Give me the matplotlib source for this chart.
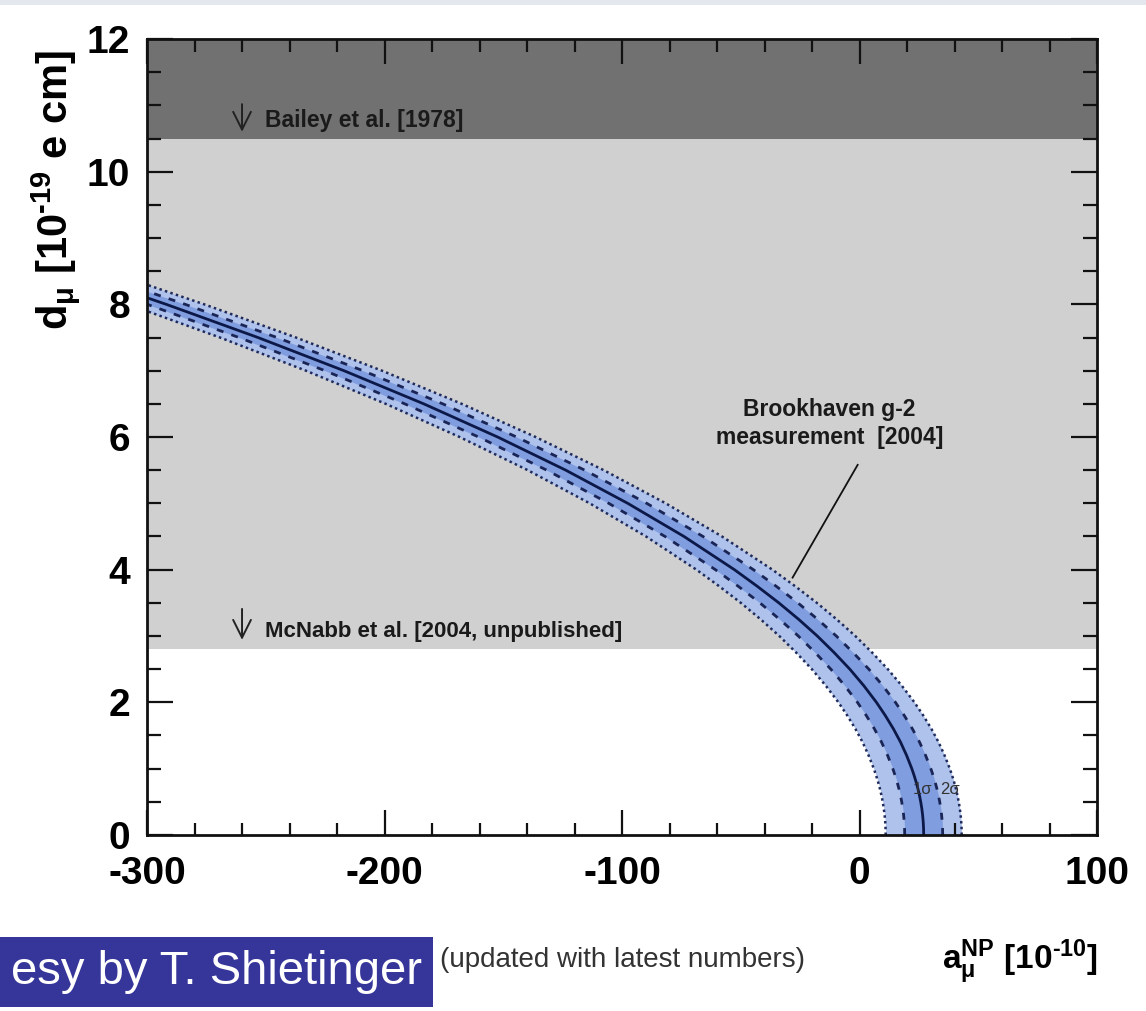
import matplotlib
matplotlib.use("Agg")
import matplotlib.pyplot as plt
import numpy as np
from matplotlib.patches import Rectangle
from matplotlib.ticker import MultipleLocator

# g-2 constraint in the (a_mu^NP, d_mu) plane: central curve plus 1/2 sigma widths
d_mu = [0.0, 0.1, 0.2, 0.3, 0.4, 0.5, 0.6, 0.7, 0.8, 0.9, 1.0, 1.2, 1.4, 1.6,
        1.8, 2.0, 2.25, 2.5, 2.75, 3.0, 3.25, 3.5, 3.75, 4.0, 4.5, 5.0, 5.5,
        6.0, 6.5, 7.0, 7.5, 8.0, 8.4]
a_np = [27.0, 26.95, 26.8, 26.55, 26.2, 25.75, 25.2, 24.55, 23.8, 22.95, 22.0,
        19.8, 17.25, 14.25, 10.85, 7.1, 1.8, -4.1, -10.7, -17.8, -25.6, -34.0,
        -43.1, -52.7, -73.9, -97.6, -123.7, -152.4, -183.5, -217.1, -253.3,
        -291.9, -324.6]
sigma_1 = 8.0
sigma_2 = 16.0

# direct EDM limits (upper bounds on d_mu)
bailey_limit = 10.5
mcnabb_limit = 2.8

BOLD = ["Liberation Sans", "DejaVu Sans"]
plt.rcParams["axes.unicode_minus"] = False
plt.rcParams["mathtext.fontset"] = "custom"
plt.rcParams["mathtext.rm"] = "Liberation Sans:bold"
plt.rcParams["mathtext.bf"] = "Liberation Sans:bold"
plt.rcParams["mathtext.it"] = "Liberation Sans:bold"

fig = plt.figure(figsize=(11.46, 10.11), dpi=100)
ax = fig.add_axes([0.1283, 0.1741, 0.8290, 0.7873])

ax.set_xlim(-300, 100)
ax.set_ylim(0, 12)

# excluded regions
ax.axhspan(bailey_limit, 12, color="#717171", lw=0, zorder=0)
ax.axhspan(mcnabb_limit, bailey_limit, color="#d0d0d0", lw=0, zorder=0)

a = np.array(a_np)
d = np.array(d_mu)
ax.fill_betweenx(d, a - sigma_2, a + sigma_2, color="#aec2ec", lw=0, zorder=1)
ax.fill_betweenx(d, a - sigma_1, a + sigma_1, color="#7f9ddf", lw=0, zorder=2)
for s in (-sigma_2, sigma_2):
    ax.plot(a + s, d, color="#1f2b5c", lw=1.8, ls=(0, (1, 1.3)), zorder=3)
for s in (-sigma_1, sigma_1):
    ax.plot(a + s, d, color="#1a2556", lw=2.0, ls=(0, (2.5, 3)), zorder=3)
ax.plot(a, d, color="#0c1848", lw=2.0, zorder=4)

ax.text(26.5, 0.68, "1σ", fontsize=12, color="#333", ha="center", va="center",
        family=BOLD, zorder=5)
ax.text(38.0, 0.68, "2σ", fontsize=12, color="#333", ha="center", va="center",
        family=BOLD, zorder=5)

# limit arrows and labels
arrow = dict(arrowstyle="->", lw=1.4, color="#222", mutation_scale=32)
ax.annotate("", xy=(-260, bailey_limit + 0.06), xytext=(-260, 11.06), arrowprops=arrow)
ax.annotate("", xy=(-260, mcnabb_limit + 0.1), xytext=(-260, 3.45), arrowprops=arrow)
ax.text(-250.5, 10.77, "Bailey et al. [1978]", fontsize=16.5, fontweight="bold",
        family=BOLD, color="#1a1a1a", va="center")
ax.text(-250.5, 3.07, "McNabb et al. [2004, unpublished]", fontsize=16,
        fontweight="bold", family=BOLD, color="#1a1a1a", va="center")

ax.text(-12.6, 6.2, "Brookhaven g-2\nmeasurement  [2004]", fontsize=16.5,
        fontweight="bold", family=BOLD, color="#1a1a1a", ha="center",
        va="center", linespacing=1.3)
ax.plot([-0.8, -28.2], [5.58, 3.88], color="#111", lw=1.3, zorder=5)

# ROOT-style frame: inward ticks on all sides
ax.xaxis.set_major_locator(MultipleLocator(100))
ax.xaxis.set_minor_locator(MultipleLocator(20))
ax.yaxis.set_major_locator(MultipleLocator(2))
ax.yaxis.set_minor_locator(MultipleLocator(0.5))
ax.tick_params(which="both", direction="in", top=True, right=True, width=1.6,
               color="#111")
ax.tick_params(axis="x", which="major", length=18, pad=15)
ax.tick_params(axis="x", which="minor", length=9)
ax.tick_params(axis="y", which="major", length=19, pad=12)
ax.tick_params(axis="y", which="minor", length=10)
for lab in ax.get_xticklabels() + ax.get_yticklabels():
    lab.set_fontsize(28)
    lab.set_fontweight("bold")
    lab.set_family(BOLD)
for sp in ax.spines.values():
    sp.set_linewidth(2)
    sp.set_color("#111")
    sp.set_zorder(6)

fig.text(55 / 1146, 1 - 190 / 1011, r"d$_{\mu}$ [10$^{\text{-19}}$ e cm]",
         rotation=90, fontsize=30, fontweight="bold", family=BOLD,
         ha="center", va="center")
fig.text(1020 / 1146, 1 - 962 / 1011, r"a$_{\mu}^{\rm NP}$ [10$^{\text{-10}}$]",
         fontsize=24, fontweight="bold", family=BOLD, ha="center", va="center")

fig.text(440 / 1146, 1 - 960 / 1011, "(updated with latest numbers)", fontsize=20,
         family=["Liberation Sans Narrow", "Liberation Sans"], color="#333",
         ha="left", va="center")

# slide footer box and top strip
fig.patches.append(Rectangle((0, 4 / 1011), 433 / 1146, 70 / 1011,
                             transform=fig.transFigure, color="#36369a", lw=0))
fig.text(422 / 1146, 1 - 972 / 1011, "esy by T. Shietinger", fontsize=34,
         family=["Liberation Sans", "DejaVu Sans"], color="white", ha="right",
         va="center")
fig.patches.append(Rectangle((0, 1 - 5 / 1011), 1, 5 / 1011,
                             transform=fig.transFigure, color="#e4e7ed", lw=0))

fig.savefig("out.png", dpi=100)
